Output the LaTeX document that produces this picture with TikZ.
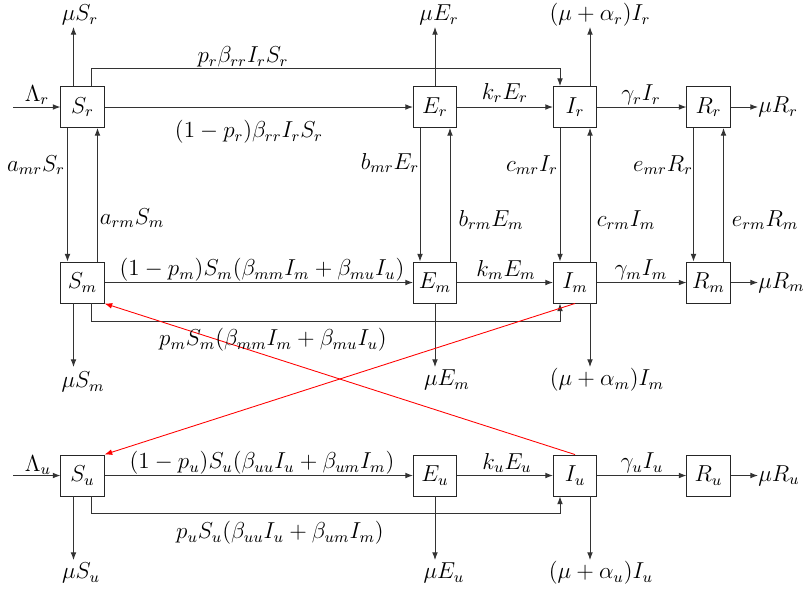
\documentclass[tikz,border=0pt]{standalone}
\usetikzlibrary{arrows.meta,calc}
\begin{document}
\begin{tikzpicture}[x=0.52pt,y=-0.52pt,
 every node/.style={font=\fontsize{11.8pt}{14pt}\selectfont},
 box/.style={draw=black!85,line width=0.5pt,minimum width=22.4pt,minimum height=21.3pt,inner sep=0pt},
 flow/.style={draw=black!80,line width=0.5pt,-{Latex[length=4pt,width=3pt]}},
 cross/.style={draw=red,line width=0.45pt,-{Latex[length=4pt,width=3pt]}},
 lbl/.style={inner sep=0pt}]
\useasboundingbox (0,0) rectangle (804,590);
% boxes
\node[box] (Sr) at (82.5,107) {$S_r$};
\node[box] (Er) at (435,107) {$E_r$};
\node[box] (Ir) at (575,107) {$I_r$};
\node[box] (Rr) at (708.5,107) {$R_r$};
\node[box] (Sm) at (82.5,282.5) {$S_m$};
\node[box] (Em) at (435,282.5) {$E_m$};
\node[box] (Im) at (575,282.5) {$I_m$};
\node[box] (Rm) at (708.5,282.5) {$R_m$};
\node[box] (Su) at (82.5,475.5) {$S_u$};
\node[box] (Eu) at (435,475.5) {$E_u$};
\node[box] (Iu) at (575,475.5) {$I_u$};
\node[box] (Ru) at (708.5,475.5) {$R_u$};
% free ends
\coordinate (Lr) at (13,107);
\coordinate (Lu) at (13,475.5);
\coordinate (oRr) at (758,107);
\coordinate (oRm) at (758,282.5);
\coordinate (oRu) at (758,475.5);
\coordinate (oSr) at (73.5,27);
\coordinate (oEr) at (435,27);
\coordinate (oIr) at (590,27);
\coordinate (oSm) at (73.5,367);
\coordinate (oEm) at (435,367);
\coordinate (oIm) at (590,367);
\coordinate (oSu) at (73.5,560);
\coordinate (oEu) at (435,560);
\coordinate (oIu) at (590,560);
% horizontal flows
\foreach \g in {r,u}{\draw[flow] (L\g) -- (S\g);}
\foreach \g in {r,m,u}{
 \draw[flow] (S\g) -- (E\g);
 \draw[flow] (E\g) -- (I\g);
 \draw[flow] (I\g) -- (R\g);
 \draw[flow] (R\g) -- (oR\g);
}
% top outflows
\draw[flow] (Sr.north -| oSr) -- (oSr);
\draw[flow] (Er.north) -- (oEr);
\draw[flow] (Ir.north -| oIr) -- (oIr);
% bottom outflows
\draw[flow] (Sm.south -| oSm) -- (oSm);
\draw[flow] (Em.south) -- (oEm);
\draw[flow] (Im.south -| oIm) -- (oIm);
\draw[flow] (Su.south -| oSu) -- (oSu);
\draw[flow] (Eu.south) -- (oEu);
\draw[flow] (Iu.south -| oIu) -- (oIu);
% bypass lines
\draw[flow] ($(Sr.north)+(9,0)$) -- ++(0,-17.5) -| ($(Ir.north)+(-15,0)$);
\draw[flow] ($(Sm.south)+(9,0)$) -- ++(0,18) -| ($(Im.south)+(-15,0)$);
\draw[flow] ($(Su.south)+(9,0)$) -- ++(0,17.5) -| ($(Iu.south)+(-15,0)$);
% vertical exchanges
\foreach \c in {S,E,I,R}{
 \draw[flow] ($(\c r.south)+(-15,0)$) -- ($(\c m.north)+(-15,0)$);
 \draw[flow] ($(\c m.north)+(15,0)$) -- ($(\c r.south)+(15,0)$);
}
% red cross links
\draw[cross] (Iu.north) -- (Sm.south east);
\draw[cross] (Im.south) -- (Su.north east);
% labels
\node[lbl] at (80,15) {$\mu S_r$};
\node[lbl] at (439,15) {$\mu E_r$};
\node[lbl] at (600,15) {$(\mu+\alpha_r)I_r$};
\node[lbl] at (37,95) {$\Lambda_r$};
\node[lbl] at (243,57) {$p_r\beta_{rr}I_rS_r$};
\node[lbl] at (249,132) {$(1-p_r)\beta_{rr}I_rS_r$};
\node[lbl] at (505,93) {$k_rE_r$};
\node[lbl] at (641,95) {$\gamma_rI_r$};
\node[lbl,anchor=west] at (oRr) {$\mu R_r$};
\node[lbl] at (36,165) {$a_{mr}S_r$};
\node[lbl] at (132,218) {$a_{rm}S_m$};
\node[lbl] at (390,163) {$b_{mr}E_r$};
\node[lbl] at (491,220) {$b_{rm}E_m$};
\node[lbl] at (532,165) {$c_{mr}I_r$};
\node[lbl] at (626,220) {$c_{rm}I_m$};
\node[lbl] at (663,165) {$e_{mr}R_r$};
\node[lbl] at (765,220) {$e_{rm}R_m$};
\node[lbl] at (262,270) {$(1-p_m)S_m(\beta_{mm}I_m+\beta_{mu}I_u)$};
\node[lbl] at (506,270) {$k_mE_m$};
\node[lbl] at (641,270) {$\gamma_mI_m$};
\node[lbl,anchor=west] at (oRm) {$\mu R_m$};
\node[lbl] at (273,340) {$p_mS_m(\beta_{mm}I_m+\beta_{mu}I_u)$};
\node[lbl] at (83,382) {$\mu S_m$};
\node[lbl] at (447,380) {$\mu E_m$};
\node[lbl] at (607,380) {$(\mu+\alpha_m)I_m$};
\node[lbl] at (38,465) {$\Lambda_u$};
\node[lbl] at (262,463) {$(1-p_u)S_u(\beta_{uu}I_u+\beta_{um}I_m)$};
\node[lbl] at (507,463) {$k_uE_u$};
\node[lbl] at (642,463) {$\gamma_uI_u$};
\node[lbl,anchor=west] at (oRu) {$\mu R_u$};
\node[lbl] at (280,533) {$p_uS_u(\beta_{uu}I_u+\beta_{um}I_m)$};
\node[lbl] at (81,573) {$\mu S_u$};
\node[lbl] at (444,573) {$\mu E_u$};
\node[lbl] at (601,573) {$(\mu+\alpha_u)I_u$};
\end{tikzpicture}
\end{document}
